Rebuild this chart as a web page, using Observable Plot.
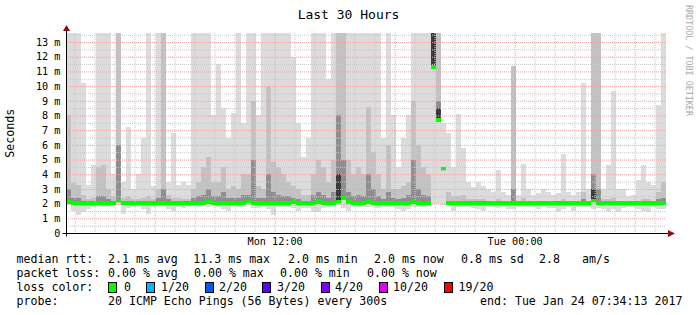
<!DOCTYPE html>
<html><head><meta charset="utf-8">
<script src="https://cdn.jsdelivr.net/npm/d3@7"></script>
<script src="https://cdn.jsdelivr.net/npm/@observablehq/plot@0.6"></script>
<style>
body{margin:0;background:#fff;}
#wrap{position:relative;width:697px;height:315px;font-family:"DejaVu Sans Mono",monospace;overflow:hidden;}
#legend{position:absolute;left:0;top:250px;width:697px;height:65px;font-size:11.6px;color:#000;}
#legend span{position:absolute;white-space:pre;line-height:12px;}
#legend .sw{position:absolute;width:9px;height:11px;box-sizing:border-box;border:1px solid #000;}
</style></head><body><div id="wrap"><div id="chart"></div><div id="legend"></div></div>
<script>
// ---- data (milliseconds), one value per 15-minute step, 120 steps over 30 hours ----
const startTime = new Date(Date.UTC(2017, 0, 23, 1, 34, 13));
const endTime = new Date(Date.UTC(2017, 0, 24, 7, 34, 13));
const stepMinutes = 15;

const maxMs = [
  13.6, 13.6, 13.6, 10.2, 3.3, 4.6, 13.6, 13.6, 13.6, 4.0,
  13.6, 3.5, 7.2, 3.0, 4.0, 6.5, 13.6, 3.2, 13.6, 13.6,
  3.5, 6.8, 3.3, 3.5, 3.3, 13.6, 13.6, 13.6, 13.6, 8.0,
  11.5, 8.5, 6.5, 8.2, 13.6, 7.5, 13.6, 13.6, 8.0, 13.6,
  13.6, 13.6, 13.6, 13.6, 13.6, 12.0, 7.5, 5.2, 6.5, 13.6,
  13.6, 13.6, 10.5, 13.6, 13.6, 13.6, 13.6, 13.6, 13.6, 13.6,
  13.6, 13.6, 13.6, 6.5, 13.6, 8.0, 4.5, 6.5, 8.0, 13.6,
  13.6, 13.6, 13.6, 13.6, 13.6, 7.5, 6.8, 4.5, 8.1, 5.8,
  3.5, 3.1, 3.5, 3.2, 3.0, 2.8, 4.3, 2.8, 2.6, 11.4,
  2.6, 4.7, 3.0, 2.6, 2.7, 3.0, 2.8, 2.6, 2.7, 5.4,
  2.8, 2.6, 2.8, 10.2, 3.0, 13.6, 13.6, 3.0, 4.6, 9.7,
  3.0, 3.0, 2.5, 2.6, 3.6, 4.6, 3.5, 3.3, 8.7, 13.6
];
const bandMs = [
  8.0, 3.4, 3.3, 2.6, 2.3, 2.4, 4.5, 4.6, 3.0, 2.5,
  13.6, 2.4, 2.5, 2.3, 2.3, 2.4, 2.5, 2.3, 3.0, 13.6,
  2.6, 2.4, 2.4, 2.3, 2.3, 3.0, 3.5, 4.5, 5.2, 3.5,
  3.5, 4.5, 3.0, 3.2, 3.0, 4.0, 4.0, 9.0, 3.2, 3.0,
  10.0, 4.8, 4.5, 4.0, 3.5, 3.2, 3.0, 2.6, 2.6, 4.0,
  5.0, 4.5, 3.5, 5.0, 13.6, 13.6, 5.0, 4.0, 4.5, 4.0,
  8.6, 5.5, 4.0, 3.0, 6.0, 3.0, 3.0, 3.2, 3.5, 9.0,
  6.0, 4.5, 4.0, 13.6, 13.6, 4.5, 2.8, 2.5, 2.5, 2.6,
  2.3, 2.3, 2.3, 2.3, 2.2, 2.2, 2.3, 2.2, 2.2, 11.4,
  2.2, 2.4, 2.2, 2.2, 2.2, 2.2, 2.2, 2.2, 2.2, 2.3,
  2.2, 2.2, 2.2, 2.8, 2.2, 13.6, 13.6, 2.3, 2.3, 2.4,
  2.2, 2.2, 2.2, 2.2, 2.2, 2.3, 2.3, 2.2, 2.8, 3.5
];
const coreMs = [
  3.0, 2.4, 2.4, 2.2, 2.2, 2.2, 2.5, 2.5, 2.3, 2.2,
  6.0, 2.2, 2.2, 2.2, 2.2, 2.2, 2.2, 2.2, 2.4, 3.0,
  2.3, 2.2, 2.2, 2.2, 2.2, 2.4, 2.5, 2.6, 3.0, 2.5,
  2.5, 2.8, 2.4, 2.4, 2.4, 2.6, 2.6, 5.0, 2.4, 2.4,
  4.0, 2.8, 2.6, 2.5, 2.5, 2.4, 2.3, 2.2, 2.2, 2.6,
  2.8, 2.6, 2.4, 2.8, 8.0, 5.0, 2.8, 2.5, 2.6, 2.5,
  4.0, 3.0, 2.5, 2.3, 2.8, 2.4, 2.3, 2.4, 2.6, 5.0,
  3.0, 2.6, 2.5, 13.6, 9.0, 2.8, 2.2, 2.2, 2.2, 2.2,
  2.2, 2.2, 2.2, 2.2, 2.2, 2.2, 2.2, 2.2, 2.2, 3.0,
  2.2, 2.2, 2.2, 2.2, 2.2, 2.2, 2.2, 2.2, 2.2, 2.2,
  2.2, 2.2, 2.2, 2.3, 2.2, 4.0, 3.0, 2.2, 2.2, 2.2,
  2.2, 2.2, 2.2, 2.2, 2.2, 2.2, 2.2, 2.2, 2.3, 2.4
];
const deepMs = [
  0, 0, 0, 0, 0, 0, 0, 0, 0, 0,
  0, 0, 0, 0, 0, 0, 0, 0, 0, 0,
  0, 0, 0, 0, 0, 0, 0, 0, 0, 0,
  0, 0, 0, 0, 0, 0, 0, 0, 0, 0,
  0, 0, 0, 0, 0, 0, 0, 0, 0, 0,
  0, 0, 0, 0, 4.0, 0, 0, 0, 0, 0,
  0, 0, 0, 0, 0, 0, 0, 0, 0, 0,
  0, 0, 0, 13.6, 8.5, 0, 0, 0, 0, 0,
  0, 0, 0, 0, 0, 0, 0, 0, 0, 0,
  0, 0, 0, 0, 0, 0, 0, 0, 0, 0,
  0, 0, 0, 0, 0, 3.0, 0, 0, 0, 0,
  0, 0, 0, 0, 0, 0, 0, 0, 0, 0
];
const minMs = [
  1.9, 1.5, 1.2, 1.4, 1.6, 1.8, 1.9, 1.8, 1.9, 1.9,
  1.9, 1.3, 1.7, 1.8, 1.9, 1.6, 1.3, 1.8, 1.9, 1.9,
  1.6, 1.5, 1.8, 1.7, 1.9, 1.9, 1.9, 1.9, 1.8, 1.9,
  1.8, 1.6, 1.5, 1.9, 1.8, 1.8, 1.9, 1.7, 1.7, 1.8,
  1.6, 1.2, 1.8, 1.8, 1.8, 1.7, 1.5, 1.7, 1.7, 1.4,
  1.4, 1.7, 1.8, 1.8, 1.9, 1.7, 1.5, 1.8, 1.8, 1.8,
  1.8, 1.8, 1.7, 1.8, 1.8, 1.8, 1.6, 1.5, 1.6, 1.8,
  1.8, 1.8, 1.9, 2.0, 2.0, 1.9, 1.9, 1.5, 1.8, 1.8,
  1.8, 1.7, 1.6, 1.5, 1.8, 1.8, 1.7, 1.8, 1.6, 1.6,
  1.8, 1.8, 1.8, 1.8, 1.6, 1.8, 1.7, 1.7, 1.4, 1.6,
  1.8, 1.5, 1.8, 1.8, 1.8, 1.6, 1.7, 1.6, 1.5, 1.6,
  1.4, 1.7, 1.8, 1.8, 1.6, 1.5, 1.4, 1.8, 1.6, 1.6
];
const medMs = [
  2.1, 2.05, 2.05, 2.0, 2.05, 2.0, 2.05, 2.05, 2.0, 2.05,
  2.2, 2.05, 2.05, 2.0, 2.05, 2.05, 2.05, 2.05, 2.05, 2.05,
  2.05, 2.05, 2.05, 2.05, 2.0, 2.05, 2.05, 2.05, 2.1, 2.05,
  2.05, 2.05, 2.05, 2.05, 2.05, 2.05, 2.15, 2.05, 2.05, 2.05,
  2.05, 2.05, 2.05, 2.05, 2.05, 2.1, 2.05, 2.05, 2.05, 2.05,
  2.1, 2.05, 2.05, 2.05, 2.15, 2.4, 2.1, 2.05, 2.05, 2.05,
  2.1, 2.05, 2.05, 2.05, 2.05, 2.05, 2.05, 2.05, 2.05, 2.1,
  2.05, 2.0, 2.05, 11.3, 7.7, 4.4, 2.05, 2.05, 2.05, 2.05,
  2.05, 2.05, 2.0, 2.0, 2.05, 2.05, 2.05, 2.05, 2.05, 2.05,
  2.05, 2.05, 2.05, 2.05, 2.05, 2.05, 2.05, 2.05, 2.0, 2.05,
  2.05, 2.05, 2.05, 2.05, 2.05, 2.2, 2.05, 2.05, 2.05, 2.05,
  2.05, 2.05, 2.05, 2.05, 2.05, 2.05, 2.05, 2.05, 2.05, 2.05
];

const yTicks = [0, 1, 2, 3, 4, 5, 6, 7, 8, 9, 10, 11, 12, 13];
const xTicks = [new Date(Date.UTC(2017, 0, 23, 12)), new Date(Date.UTC(2017, 0, 24, 0))];

const titleText = "Last 30 Hours";
const unitText = "Seconds";
const watermarkText = "RRDTOOL / TOBI OETIKER";

const rttLabels = ["median rtt:", "2.1 ms avg", "11.3 ms max", "2.0 ms min", "2.0 ms now", "0.8 ms sd", "2.8", "am/s"];
const lossLabels = ["packet loss:", "0.00 % avg", "0.00 % max", "0.00 % min", "0.00 % now"];
const lossColorTitle = "loss color:";
const lossCategories = ["0", "1/20", "2/20", "3/20", "4/20", "10/20", "19/20"];
const lossColors = ["#00ff00", "#00b8ff", "#0059ff", "#5e00ff", "#7e00ff", "#dd00ff", "#ff0000"];
const probeLabels = ["probe:", "20 ICMP Echo Pings (56 Bytes) every 300s", "end: Tue Jan 24 07:34:13 2017"];

// ---- build table ----
const yTop = 13.615;
const stepMs = stepMinutes * 60000;
const data = maxMs.map((v, i) => ({
  t0: new Date(+startTime + i * stepMs),
  t1: new Date(Math.min(+startTime + (i + 1) * stepMs, +endTime)),
  max: v, band: bandMs[i], core: coreMs[i], deep: deepMs[i], min: minMs[i], med: medMs[i]
}));

const hours = d3.utcHour.range(startTime, endTime);
const minorX = hours.filter(d => d.getUTCHours() % 6 !== 0);
const majorX = hours.filter(d => d.getUTCHours() % 6 === 0);
const minorY = d3.range(0.5, yTop, 1);
const majorY = d3.range(1, yTop, 1);

const crisp = {shapeRendering: "crispEdges"};
const chart = Plot.plot({
  width: 697, height: 250,
  marginLeft: 66, marginRight: 31, marginTop: 33, marginBottom: 17,
  style: {fontFamily: "DejaVu Sans Mono, monospace", fontSize: "10.2px", color: "#000", background: "#fff", overflow: "visible"},
  x: {type: "utc", domain: [startTime, endTime], ticks: xTicks, tickFormat: d3.utcFormat("%a %H:%M"), tickSize: 0, tickPadding: 4, label: null},
  y: {domain: [0, yTop], clamp: true, ticks: yTicks, tickFormat: d => d === 0 ? "0" : d + " m", tickSize: 0, tickPadding: 6, label: null},
  marks: [
    Plot.rect(data, {x1: "t0", x2: "t1", y1: "min", y2: "max", fill: "#dcdcdc", ...crisp}),
    Plot.rect(data.filter(d => d.band > d.med), {x1: "t0", x2: "t1", y1: d => d.med - 0.15, y2: "band", fill: "#c2c2c2", ...crisp}),
    Plot.rect(data.filter(d => d.core > d.med + 0.1), {x1: "t0", x2: "t1", y1: d => d.med - 0.1, y2: "core", fill: "#8e8e8e", ...crisp}),
    Plot.rect(data.filter(d => d.deep > d.med), {x1: "t0", x2: "t1", y1: d => d.med - 0.1, y2: "deep", fill: "#3a3a3a", ...crisp}),
    Plot.ruleX(minorX, {stroke: "#c8c8c8", strokeDasharray: "1,1"}),
    Plot.ruleY(minorY, {stroke: "#c8c8c8", strokeDasharray: "1,1"}),
    Plot.ruleX(majorX, {stroke: "#f0a0a0", strokeDasharray: "1,1"}),
    Plot.ruleY(majorY, {stroke: "#f0a0a0", strokeDasharray: "1,1"}),
    Plot.rect(data, {x1: "t0", x2: "t1", y1: d => d.med - 0.12, y2: d => d.med + 0.12, fill: "#00ff00", ...crisp})
  ]
});
document.getElementById("chart").appendChild(chart);

// ---- axis lines, arrows, title, unit label, watermark ----
const svg = d3.select(chart);
const sx = chart.scale("x"), sy = chart.scale("y");
const X0 = Math.round(sx.apply(startTime)) + 0.5, X1 = sx.apply(endTime);
const Y0 = Math.round(sy.apply(0)) + 0.5, YT = sy.apply(yTop);
svg.append("line").attr("x1", X0 - 4).attr("x2", X1 + 3).attr("y1", Y0).attr("y2", Y0).attr("stroke", "#000");
svg.append("line").attr("x1", X0).attr("x2", X0).attr("y1", Y0 + 3).attr("y2", YT - 3).attr("stroke", "#000");
svg.append("polygon").attr("points", `${X0 - 3.5},${YT - 2} ${X0 + 3.5},${YT - 2} ${X0},${YT - 8}`).attr("fill", "#8b1010");
svg.append("polygon").attr("points", `${X1 + 2},${Y0 - 3.5} ${X1 + 2},${Y0 + 3.5} ${X1 + 9},${Y0}`).attr("fill", "#8b1010");
svg.append("text").text(titleText).attr("x", 348.5).attr("y", 14).attr("text-anchor", "middle").attr("dominant-baseline", "central").attr("font-size", "13px").attr("fill", "#000");
svg.append("text").text(unitText).attr("transform", `translate(10,${(Y0 + YT) / 2}) rotate(-90)`).attr("text-anchor", "middle").attr("dominant-baseline", "central").attr("font-size", "11.6px").attr("fill", "#000");
svg.append("text").text(watermarkText).attr("transform", "translate(688.5,5) rotate(90)").attr("text-anchor", "start").attr("dominant-baseline", "central").attr("font-size", "8.4px").attr("fill", "#a8a8a8");

// ---- legend below ----
const legend = document.getElementById("legend");
function addText(txt, left, centerY) {
  const s = document.createElement("span");
  s.textContent = txt;
  s.style.left = left + "px";
  s.style.top = (centerY - 6) + "px";
  legend.appendChild(s);
}
const rttX = [16.5, 108, 193.3, 288, 374, 461, 539, 582];
rttLabels.forEach((t, i) => addText(t, rttX[i], 9));
const lossX = [16.5, 108, 194, 280, 367];
lossLabels.forEach((t, i) => addText(t, lossX[i], 23));
addText(lossColorTitle, 16.5, 37);
const swX = [108, 146, 205, 262, 320.5, 378.6, 444];
const swLabelX = [124, 161, 219, 277, 335, 393, 458.5];
lossCategories.forEach((c, i) => {
  const b = document.createElement("div");
  b.className = "sw";
  b.style.left = swX[i] + "px";
  b.style.top = (37 - 5.5) + "px";
  b.style.background = lossColors[i];
  legend.appendChild(b);
  addText(c, swLabelX[i], 37);
});
const probeX = [16.5, 108, 480];
probeLabels.forEach((t, i) => addText(t, probeX[i], 51.3));
</script></body></html>
